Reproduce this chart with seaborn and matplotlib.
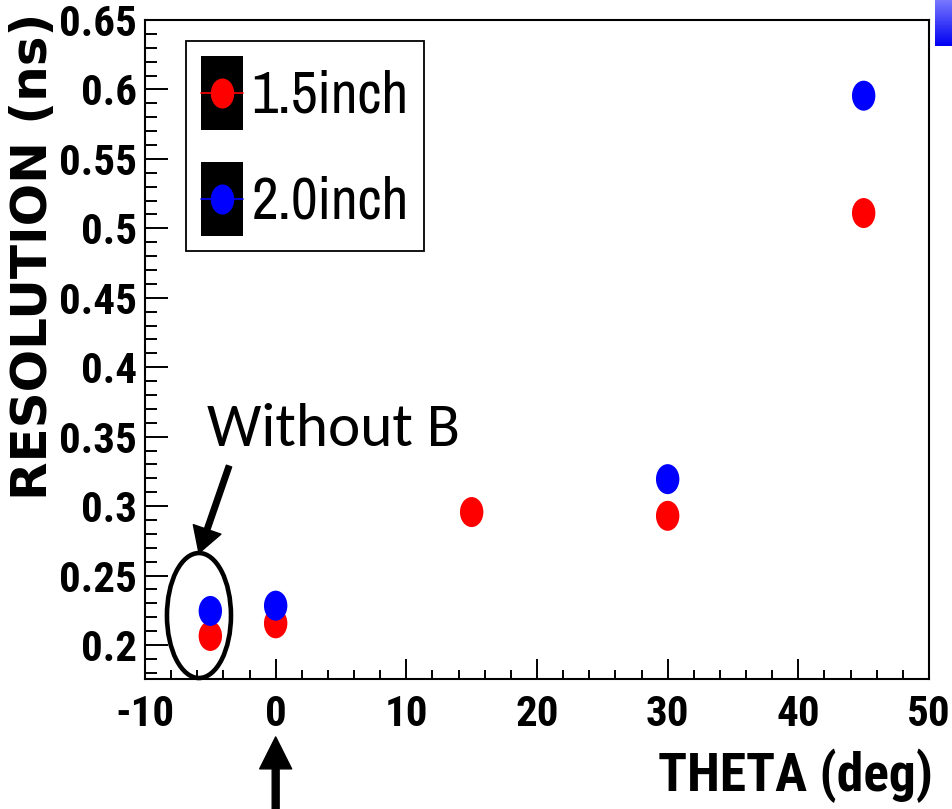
import numpy as np
import pandas as pd
import matplotlib
matplotlib.use("Agg")
import matplotlib.pyplot as plt
import seaborn as sns
from matplotlib import font_manager
from matplotlib.path import Path
from matplotlib.markers import MarkerStyle
from matplotlib.transforms import Affine2D
from matplotlib.patches import Ellipse, Patch
from matplotlib.lines import Line2D
from matplotlib.legend_handler import HandlerLine2D
from matplotlib.ticker import MultipleLocator, FixedLocator, FixedFormatter

# ---------------- data ----------------
theta_15 = [-5, 0, 15, 30, 45]
res_15 = [0.2065, 0.2156, 0.2957, 0.2930, 0.5110]
theta_20 = [-5, 0, 30, 45]
res_20 = [0.2245, 0.2283, 0.3194, 0.5955]
series_labels = ["1.5inch", "2.0inch"]
series_colors = ["#ff0000", "#0000ff"]
x_ticks = [-10, 0, 10, 20, 30, 40, 50]
x_ticklabels = ["-10", "0", "10", "20", "30", "40", "50"]
y_ticks = [0.2, 0.25, 0.3, 0.35, 0.4, 0.45, 0.5, 0.55, 0.6, 0.65]
y_ticklabels = ["0.2", "0.25", "0.3", "0.35", "0.4", "0.45", "0.5", "0.55", "0.6", "0.65"]
x_title = "THETA (deg)"
y_title = "RESOLUTION (ns)"
note_text = "Without B"

df = pd.concat([
    pd.DataFrame({"theta": theta_15, "resolution": res_15, "size": series_labels[0]}),
    pd.DataFrame({"theta": theta_20, "resolution": res_20, "size": series_labels[1]}),
], ignore_index=True)

# ---------------- fonts ----------------
def _wt(w):
    if isinstance(w, int):
        return w
    return {"bold": 700, "heavy": 800, "black": 900}.get(str(w), 400)


_entries = [(f.name, _wt(f.weight), f.style) for f in font_manager.fontManager.ttflist]


def pick(cands, bold=False, default="DejaVu Sans"):
    for c in cands:
        ws = [w for (n, w, s) in _entries if n == c and s == "normal"]
        if not ws:
            continue
        if bold and max(ws) < 700:
            continue
        if not bold and min(ws) > 400:
            continue
        return c
    return default


NARROW_CANDS = ["Liberation Sans Narrow", "Arial Narrow", "Archivo Narrow",
                "Roboto Condensed", "PT Sans Narrow", "Pragati Narrow",
                "Fira Sans Condensed", "IBM Plex Sans Condensed", "Asap Condensed",
                "Encode Sans Condensed", "Sofia Sans Condensed", "Barlow Semi Condensed",
                "Liberation Sans"]
BOLD_NAME = pick(NARROW_CANDS, bold=True)
REG_NAME = pick(NARROW_CANDS, bold=False)
NOTE_NAME = pick(["Carlito", "Calibri", "Open Sans"])
NOTE_SIZE = 44 if NOTE_NAME in ("Carlito", "Calibri") else 39

# ---------------- style ----------------
sns.set_style("white")
plt.rcParams["font.family"] = [REG_NAME, "DejaVu Sans"]
for k in ["text.color", "axes.labelcolor", "xtick.color", "ytick.color", "axes.edgecolor"]:
    plt.rcParams[k] = "black"

fig = plt.figure(figsize=(9.53, 8.09), dpi=100)
ax = fig.add_axes([145 / 953, 1 - 679 / 809, 784 / 953, 659 / 809])

# elliptical marker (points are slightly taller than wide)
ell_path = Path.unit_circle().transformed(Affine2D().scale(0.78, 1.0))
ell_marker = MarkerStyle(ell_path)

palette = dict(zip(series_labels, series_colors))
sns.scatterplot(data=df, x="theta", y="resolution", hue="size", palette=palette,
                hue_order=series_labels, marker=ell_marker, s=467, linewidth=0,
                legend=False, ax=ax, zorder=3)

ax.set_xlim(-10, 50)
ax.set_ylim(0.1755, 0.65)

ax.xaxis.set_major_locator(FixedLocator(x_ticks))
ax.xaxis.set_major_formatter(FixedFormatter(x_ticklabels))
ax.xaxis.set_minor_locator(MultipleLocator(2))
ax.yaxis.set_major_locator(FixedLocator(y_ticks))
ax.yaxis.set_major_formatter(FixedFormatter(y_ticklabels))
ax.yaxis.set_minor_locator(MultipleLocator(0.01))

ax.tick_params(axis="x", which="major", direction="in", length=14.4, width=1.4,
               pad=11, labelsize=31, top=False, bottom=True, colors="black")
ax.tick_params(axis="x", which="minor", direction="in", length=6.5, width=1.4,
               top=False, bottom=True, colors="black")
ax.tick_params(axis="y", which="major", direction="in", length=16.5, width=1.4,
               pad=6, labelsize=31, right=False, left=True, colors="black")
ax.tick_params(axis="y", which="minor", direction="in", length=8.6, width=1.4,
               right=False, left=True, colors="black")
for lab in ax.get_xticklabels() + ax.get_yticklabels():
    lab.set_fontweight("bold")
    lab.set_family([BOLD_NAME, "DejaVu Sans"])

for sp in ax.spines.values():
    sp.set_visible(True)
    sp.set_color("black")
    sp.set_linewidth(1.5)

ax.set_xlabel(x_title, fontsize=38.5, fontweight="bold", family=[BOLD_NAME, "DejaVu Sans"],
              ha="right", va="top", color="black")
ax.xaxis.set_label_coords(1.005, -0.106)
ax.set_ylabel(y_title, fontsize=36, fontweight="bold", family=["DejaVu Sans"],
              ha="right", va="bottom", color="black")
ax.yaxis.set_label_coords(-0.112, 1.0106)


# ---------------- legend ----------------
class CenteredLineHandler(HandlerLine2D):
    """Line+marker centred on the black handle box (ROOT-style legend entry)."""

    def create_artists(self, legend, orig_handle, xdescent, ydescent, width,
                       height, fontsize, trans):
        arts = super().create_artists(legend, orig_handle, xdescent, ydescent,
                                      width, height, fontsize, trans)
        for a in arts:
            if isinstance(a, Line2D):
                a.set_ydata(np.asarray(a.get_ydata(), dtype=float) - ydescent / 2.0)
        return arts


handles = []
for lab, col in zip(series_labels, series_colors):
    box = Patch(facecolor="black", edgecolor="black", linewidth=0)
    mk = Line2D([], [], color=col, linewidth=1.2, marker=ell_marker,
                markersize=np.sqrt(467), markerfacecolor=col, markeredgewidth=0)
    handles.append((box, mk))
leg = ax.legend(handles, series_labels, loc="upper left",
                bbox_to_anchor=((186 - 145) / 784, (679 - 41) / 659),
                borderaxespad=0, prop={"family": [REG_NAME, "DejaVu Sans"], "size": 42},
                handlelength=0.72, handleheight=1.575, handletextpad=0.14,
                labelspacing=0.55, borderpad=0.26, frameon=True, fancybox=False,
                framealpha=1, edgecolor="black",
                handler_map={Line2D: CenteredLineHandler()})
leg.get_frame().set_linewidth(1.3)
for t in leg.get_texts():
    t.set_color("black")

# ---------------- annotations ----------------
ax.text(-5.26, 0.3432, note_text, fontsize=NOTE_SIZE, family=[NOTE_NAME, "DejaVu Sans"],
        ha="left", va="baseline", color="black")
ax.annotate("", xy=(-5.87, 0.2662), xytext=(-3.57, 0.3288),
            arrowprops=dict(facecolor="black", edgecolor="black", width=4,
                            headwidth=21, headlength=18, shrink=0))
ax.add_patch(Ellipse((-5.87, 0.2212), 4.9, 0.09, fill=False, edgecolor="black",
                     linewidth=3.3, clip_on=False, zorder=4))
ax.annotate("", xy=(0, 0.1338), xytext=(0, 0.07),
            arrowprops=dict(facecolor="black", edgecolor="black", width=5,
                            headwidth=23, headlength=23, shrink=0),
            annotation_clip=False)

# small blue gradient element at top-right corner
gax = fig.add_axes([935 / 953, 1 - 46 / 809, 18 / 953, 46 / 809])
grad = np.linspace(0, 1, 64)
cols = np.zeros((64, 1, 3))
cols[:, 0, 0] = 0.47 * (1 - grad)
cols[:, 0, 1] = 0.47 * (1 - grad)
cols[:, 0, 2] = 1.0 - 0.05 * grad
gax.imshow(cols, aspect="auto", interpolation="bilinear")
gax.axis("off")

fig.savefig("out.png", dpi=100)
